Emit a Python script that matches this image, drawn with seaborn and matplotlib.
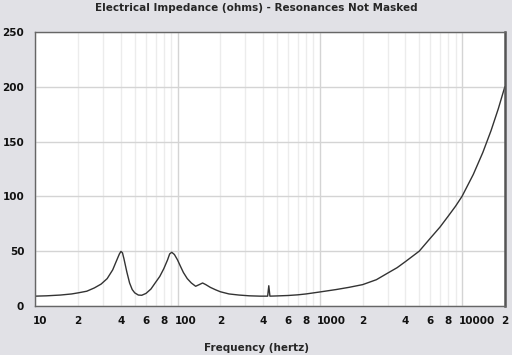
import numpy as np
import pandas as pd
import seaborn as sns
import matplotlib.pyplot as plt
from matplotlib.ticker import LogLocator, FixedLocator, FuncFormatter
from matplotlib.transforms import ScaledTranslation

# impedance curve (Hz, ohms)
freq = [10, 12, 15, 18, 20, 23, 26, 29, 32, 35, 37, 39, 40, 41, 42, 44, 46, 48,
        50, 53, 56, 60, 65, 70, 75, 80, 85, 88, 91, 95, 100, 105, 110, 117, 125,
        134, 142, 150, 158, 170, 185, 200, 230, 270, 320, 380, 430, 438, 446,
        500, 600, 700, 800, 1000, 1300, 1600, 2000, 2500, 3000, 3500, 4000,
        5000, 6000, 7000, 8000, 9000, 10000, 12000, 14000, 16000, 18000, 20000]
ohms = [9.0, 9.3, 10.0, 11.0, 12.0, 13.5, 16.5, 20.0, 25.0, 33.0, 40.5, 47.5,
        49.8, 48.5, 43.0, 31.0, 21.0, 15.0, 12.0, 10.0, 9.8, 11.5, 15.5, 21.5,
        27.0, 34.0, 42.0, 47.5, 49.0, 47.0, 42.0, 36.0, 30.5, 25.0, 21.0, 18.0,
        19.5, 21.0, 19.5, 17.0, 14.8, 13.0, 11.0, 10.0, 9.3, 9.0, 9.0, 18.5, 9.0,
        9.2, 9.6, 10.2, 11.0, 12.8, 15.0, 17.0, 19.5, 24.0, 30.0, 35.0, 40.5,
        50.0, 62.0, 72.0, 82.0, 91.0, 100.0, 120.0, 140.0, 160.0, 180.0, 200.0]

y_ticks = [0, 50, 100, 150, 200, 250]

df = pd.DataFrame({'freq': freq, 'ohms': ohms})

sns.set_style('white')
plt.rcParams['font.family'] = ['DejaVu Sans']
plt.rcParams['font.weight'] = 'bold'

bg = '#e1e1e6'
fig = plt.figure(figsize=(5.12, 3.55), dpi=100, facecolor=bg)
ax = fig.add_axes([0.069, 0.138, 0.917, 0.772])
ax.set_facecolor('white')

sns.lineplot(data=df, x='freq', y='ohms', ax=ax, color='#333333',
             linewidth=1.0, estimator=None, sort=True)

ax.set_xscale('log')
ax.set_xlim(10, 20000)
ax.set_ylim(0, 250)

# decade ticks get the numbers, minor ticks show 2, 4, 6, 8
ax.xaxis.set_major_locator(FixedLocator([10, 100, 1000, 10000]))
ax.xaxis.set_major_formatter(FuncFormatter(lambda v, p: f'{int(v)}'))
ax.xaxis.set_minor_locator(LogLocator(base=10, subs=np.arange(2, 10)))


def minor_label(v, p):
    m = int(round(v / 10 ** np.floor(np.log10(v))))
    return str(m) if m in (2, 4, 6, 8) else ''


ax.xaxis.set_minor_formatter(FuncFormatter(minor_label))
ax.set_yticks(y_ticks)

ax.tick_params(axis='both', which='both', length=0, labelsize=7.5,
               colors='#111111')
ax.tick_params(axis='x', which='both', pad=7)
ax.tick_params(axis='y', pad=8)

# decade labels start just left of their grid line
shift = ScaledTranslation(-3 / 100, 0, fig.dpi_scale_trans)
for lab in ax.get_xticklabels(which='major'):
    lab.set_horizontalalignment('left')
    lab.set_transform(lab.get_transform() + shift)

# grid lines
ax.grid(True, which='major', axis='both', color='#d4d4d4', linewidth=1.0)
ax.grid(True, which='minor', axis='x', color='#ececec', linewidth=1.0)
ax.set_axisbelow(True)

for side in ['left', 'bottom', 'top']:
    ax.spines[side].set_color('#666666')
    ax.spines[side].set_linewidth(1.0)
ax.spines['right'].set_color('#555555')
ax.spines['right'].set_linewidth(1.8)

ax.set_xlabel('')
ax.set_ylabel('')
fig.text(0.5, 0.978, 'Electrical Impedance (ohms) - Resonances Not Masked',
         ha='center', va='center', fontsize=7.5, fontweight='bold')
fig.text(0.5, 0.02, 'Frequency (hertz)', ha='center', va='center',
         fontsize=7.5, fontweight='bold')

fig.savefig('out.png', dpi=100, facecolor=bg)
